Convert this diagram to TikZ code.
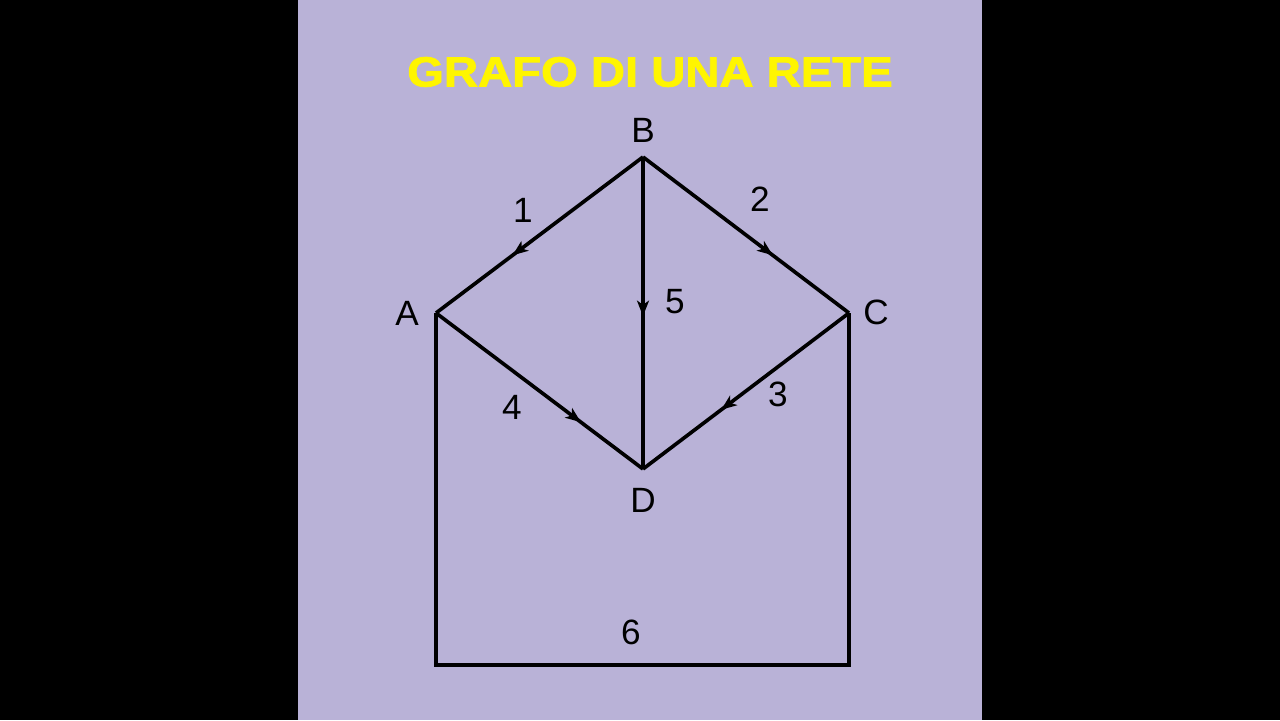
\documentclass[tikz,border=0pt]{standalone}
\usepackage{fontspec}
\setmainfont{Liberation Sans}
\newfontfamily\titlefont{Liberation Sans}[BoldFeatures={FakeBold=1.8}]
\usetikzlibrary{arrows.meta,decorations.markings}

\definecolor{lavender}{RGB}{185,178,215}
\definecolor{titleyellow}{RGB}{255,245,0}

\tikzset{
  branch/.style={line width=2.6pt,black,line join=miter},
  midarrow/.style={postaction={decorate,decoration={markings,
      mark=at position #1 with {\arrow{Stealth[length=11pt,width=8.5pt,inset=3pt]}}}}},
  lbl/.style={font=\fontsize{25}{25}\selectfont,inner sep=0pt}
}

\begin{document}
\begin{tikzpicture}
  \useasboundingbox (0,0) rectangle (32,18);
  \fill[black] (0,0) rectangle (32,18);
  \fill[lavender] (7.45,0) rectangle (24.55,18);

  \node[titleyellow,font=\titlefont\fontsize{30}{30}\selectfont\bfseries] (title) at (16.25,16.2) {\scalebox{1.12}[1]{GRAFO DI UNA RETE}};

  \coordinate (A) at (10.9,10.175);
  \coordinate (B) at (16.075,14.075);
  \coordinate (C) at (21.225,10.175);
  \coordinate (D) at (16.075,6.275);
  \coordinate (A6) at (10.9,1.375);
  \coordinate (C6) at (21.225,1.375);

  \draw[branch,midarrow=0.63] (B) -- (A);
  \draw[branch,midarrow=0.63] (B) -- (C);
  \draw[branch,midarrow=0.51] (B) -- (D);
  \draw[branch,midarrow=0.7] (A) -- (D);
  \draw[branch,midarrow=0.62] (C) -- (D);
  \draw[branch] (A) -- (A6) -- (C6) -- (C);

  \node[lbl] (labA) at (10.175,10.175) {A};
  \node[lbl] (labB) at (16.075,14.75) {B};
  \node[lbl] (labC) at (21.9,10.2) {C};
  \node[lbl] (labD) at (16.075,5.5) {D};

  \node[lbl] (lab1) at (13.075,12.75) {1};
  \node[lbl] (lab2) at (19.0,13.025) {2};
  \node[lbl] (lab3) at (19.45,8.15) {3};
  \node[lbl] (lab4) at (12.8,7.825) {4};
  \node[lbl] (lab5) at (16.875,10.45) {5};
  \node[lbl] (lab6) at (15.775,2.2) {6};
\end{tikzpicture}
\end{document}
